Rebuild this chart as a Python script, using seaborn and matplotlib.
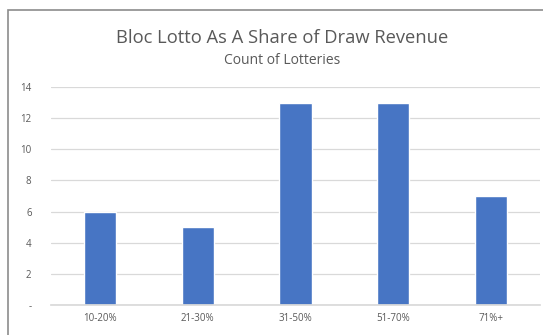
import matplotlib
matplotlib.use("Agg")
import matplotlib.pyplot as plt
import seaborn as sns
import pandas as pd
from matplotlib.patches import Rectangle

categories = ["10-20%", "21-30%", "31-50%", "51-70%", "71%+"]
counts = [6, 5, 13, 13, 7]
yticks = [0, 2, 4, 6, 8, 10, 12, 14]
ytick_labels = ["-", "2", "4", "6", "8", "10", "12", "14"]

df = pd.DataFrame({"range": categories, "count": counts})

sns.set_theme(style="white")
plt.rcParams["font.family"] = ["Open Sans", "DejaVu Sans"]

fig = plt.figure(figsize=(5.43, 3.35), dpi=100)
fig.patch.set_facecolor("white")
# chart frame (left and top edges visible, rest cropped)
fig.add_artist(Rectangle((8/543, -0.5), 2.0, (335-10)/335 + 0.5, transform=fig.transFigure,
                         fill=False, edgecolor="#8c8c8c", linewidth=1.2))

ax = fig.add_axes([51/543, 30/335, (540-51)/543, (305-87)/335])
sns.barplot(data=df, x="range", y="count", color="#4775C4", width=0.33, saturation=1, ax=ax)
ax.set_ylim(0, 14)
ax.set_yticks(yticks)
ax.set_yticklabels(ytick_labels)
ax.yaxis.grid(True, color="#d9d9d9", linewidth=0.9)
ax.set_axisbelow(True)
for s in ax.spines.values():
    s.set_visible(False)
ax.spines["bottom"].set_visible(True)
ax.spines["bottom"].set_color("#d9d9d9")
ax.set_xlabel("")
ax.set_ylabel("")
ax.tick_params(axis="both", length=0, labelsize=7, labelcolor="#595959")
ax.tick_params(axis="y", pad=14)
ax.tick_params(axis="x", pad=6)

fig.text(282/543, 1 - 38/335, "Bloc Lotto As A Share of Draw Revenue", ha="center", va="center",
         fontsize=13.2, color="#595959")
fig.text(282/543, 1 - 60/335, "Count of Lotteries", ha="center", va="center",
         fontsize=10, color="#595959")

fig.savefig("out.png", dpi=100)
